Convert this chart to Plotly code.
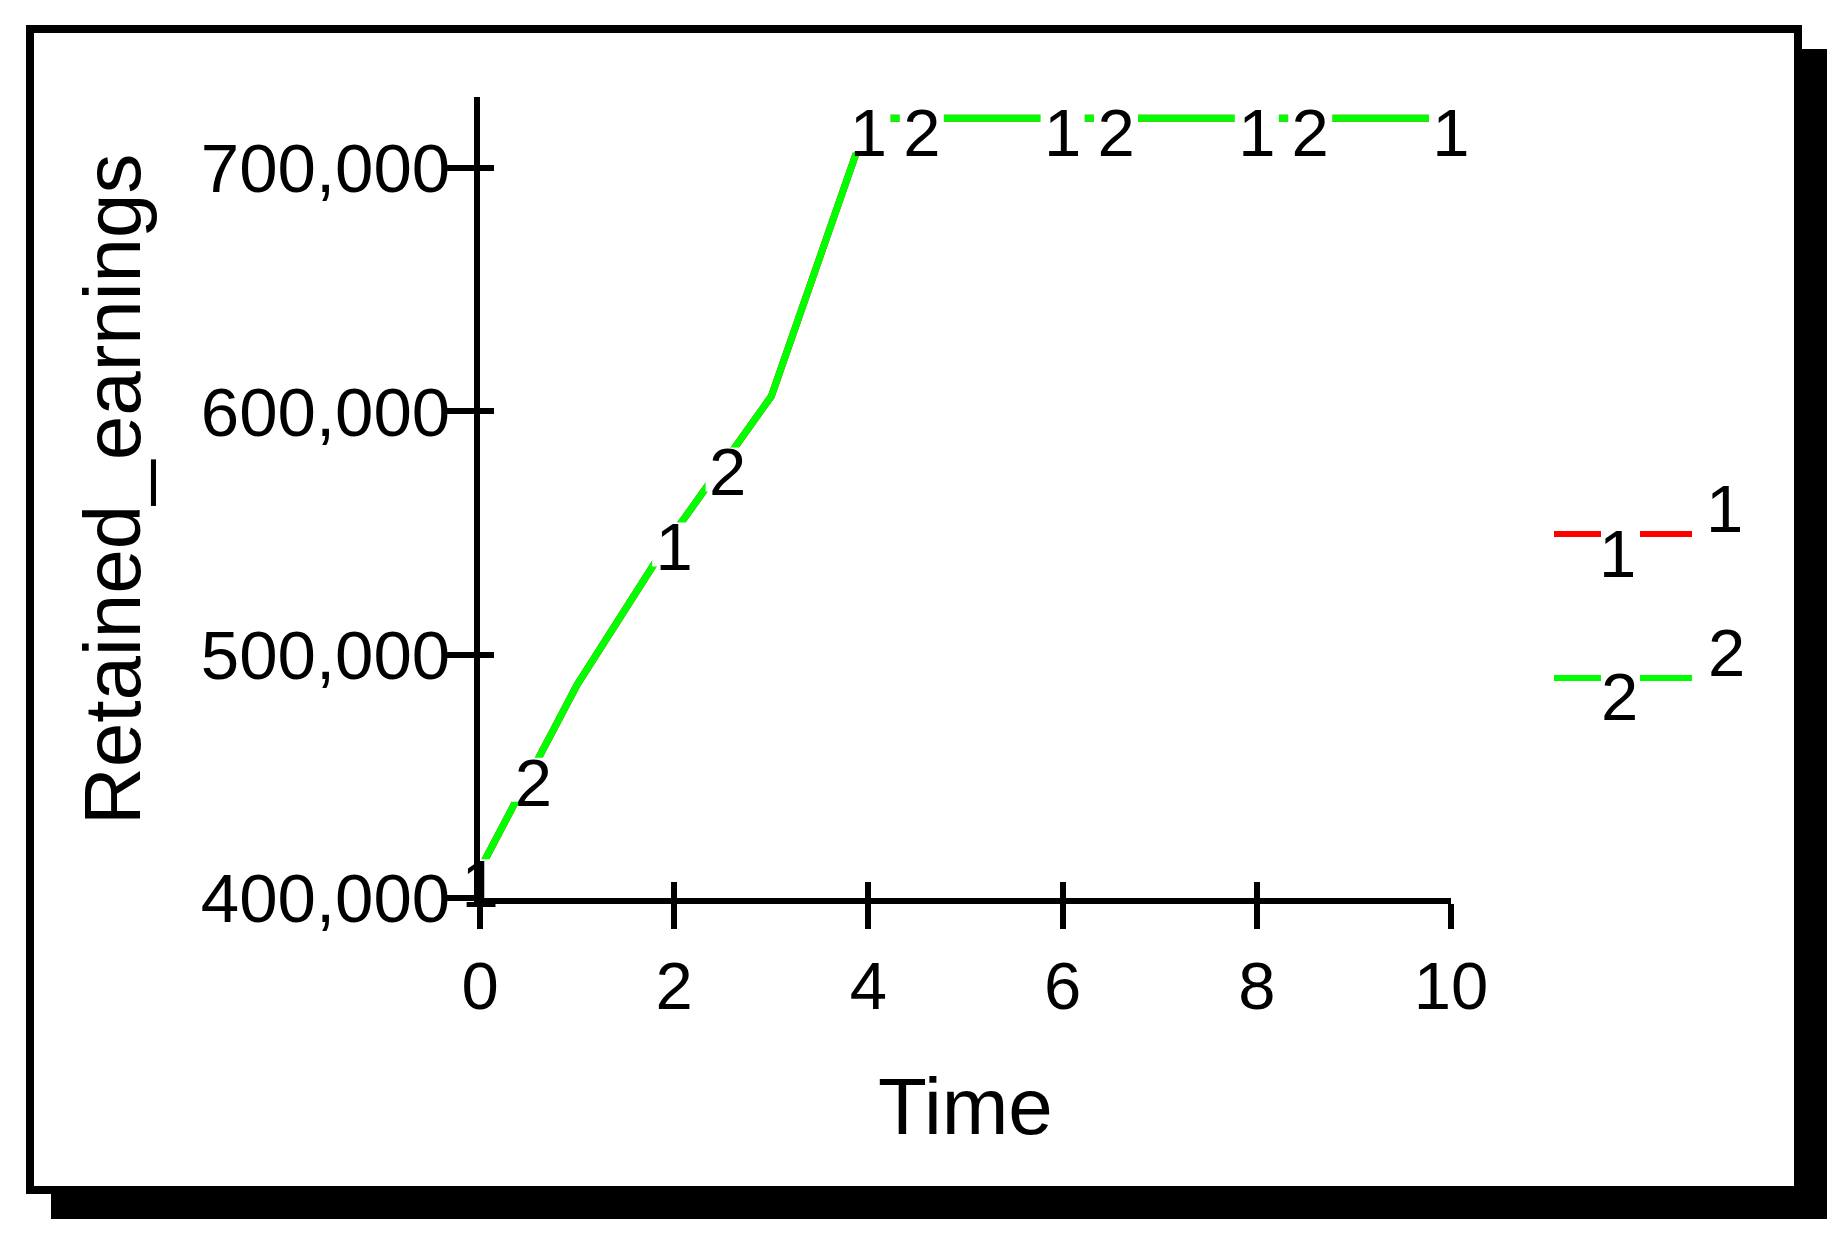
import numpy as np
import plotly.graph_objects as go

# ---------------- data ----------------
time = [0, 1, 2, 3, 4, 5, 6, 7, 8, 9, 10]
retained_earnings_1 = [411800, 487600, 550200, 606200, 720500, 720500, 720500, 720500, 720500, 720500, 720500]
retained_earnings_2 = [411800, 487600, 550200, 606200, 720500, 720500, 720500, 720500, 720500, 720500, 720500]
series_names = ["1", "2"]
series_colors = ["#ff0000", "#00ff00"]
label_times_1 = [0, 2, 4, 6, 8, 10]
label_times_2 = [0.55, 2.55, 4.55, 6.55, 8.55]
x_tick_vals = [0, 2, 4, 6, 8, 10]
x_tick_text = ["0", "2", "4", "6", "8", "10"]
y_tick_vals = [400000, 500000, 600000, 700000]
y_tick_text = ["400,000", "500,000", "600,000", "700,000"]
x_title = "Time"
y_title = "Retained_earnings"

# ---------------- layout geometry (pixels) ----------------
W, H = 1848, 1240
PL, PR, PT, PB = 480, 1451, 97, 898
X_RANGE = [0, 10]
Y_RANGE = [400000, 729200]
FONT = "Liberation Sans, Arial, sans-serif"


def px(x):
    return (x - PL) / (PR - PL)


def py(y):
    return (PB - y) / (PB - PT)


units_per_px = (Y_RANGE[1] - Y_RANGE[0]) / (PB - PT)
text_drop = 21 * units_per_px
box_drop = 12 * units_per_px

fig = go.Figure()

series = [retained_earnings_1, retained_earnings_2]
label_times = [label_times_1, label_times_2]

for name, vals, col in zip(series_names, series, series_colors):
    fig.add_trace(go.Scatter(
        x=time, y=vals, mode="lines", name=name,
        line=dict(color=col, width=7), showlegend=False, cliponaxis=False,
    ))

# white boxes behind the line labels (gaps in the lines)
for name, vals, lt in zip(series_names, series, label_times):
    fig.add_trace(go.Scatter(
        x=lt, y=np.interp(lt, time, vals) - box_drop, mode="markers",
        marker=dict(symbol="square", size=44, color="white", line=dict(width=0)),
        showlegend=False, cliponaxis=False, hoverinfo="skip",
    ))

# the line labels
for name, vals, lt in zip(series_names, series, label_times):
    fig.add_trace(go.Scatter(
        x=lt, y=np.interp(lt, time, vals) - text_drop, mode="text", text=[name] * len(lt),
        textposition="middle center",
        textfont=dict(family=FONT, size=67, color="black"),
        showlegend=False, cliponaxis=False, hoverinfo="skip",
    ))

# invisible trace for the overlay axes (inner tick halves)
fig.add_trace(go.Scatter(x=[None], y=[None], xaxis="x2", yaxis="y2", showlegend=False))

shapes = [
    # drop shadow
    dict(type="rect", xref="paper", yref="paper", x0=px(51), x1=px(1827), y0=py(1219), y1=py(49),
         fillcolor="black", line=dict(width=0), layer="below"),
    # frame
    dict(type="rect", xref="paper", yref="paper", x0=px(30), x1=px(1798), y0=py(1190), y1=py(29),
         fillcolor="white", line=dict(color="black", width=8), layer="below"),
]

# legend glyphs
legend_rows = [534, 678]
for row_y, col in zip(legend_rows, series_colors):
    for a, b in [(1554, 1601), (1640, 1692)]:
        shapes.append(dict(type="line", xref="paper", yref="paper", x0=px(a), x1=px(b),
                           y0=py(row_y), y1=py(row_y), line=dict(color=col, width=6)))

annotations = []
legend_mid = [(1617, 553), (1619, 696)]
legend_right = [(1724, 509), (1726, 652)]
for name, (mx, my), (rx, ry) in zip(series_names, legend_mid, legend_right):
    for (ax_, ay_) in [(mx, my), (rx, ry)]:
        annotations.append(dict(text=name, xref="paper", yref="paper", x=px(ax_), y=py(ay_),
                                xanchor="center", yanchor="middle", showarrow=False,
                                font=dict(family=FONT, size=67, color="black")))

annotations.append(dict(text=x_title, xref="paper", yref="paper", x=px(965), y=py(1106),
                        xanchor="center", yanchor="middle", showarrow=False,
                        font=dict(family=FONT, size=80, color="black")))
annotations.append(dict(text=y_title, xref="paper", yref="paper", x=px(112), y=py(489),
                        xanchor="center", yanchor="middle", showarrow=False, textangle=-90,
                        font=dict(family=FONT, size=80, color="black")))

axis_common = dict(showgrid=False, zeroline=False, showline=True, linecolor="black", linewidth=6,
                   tickcolor="black", tickwidth=6)

fig.update_layout(
    width=W, height=H,
    margin=dict(l=PL, r=W - PR, t=PT, b=H - PB, pad=0),
    paper_bgcolor="white", plot_bgcolor="rgba(0,0,0,0)",
    xaxis=dict(range=X_RANGE, tickvals=x_tick_vals, ticktext=x_tick_text, ticks="outside", ticklen=25,
               tickfont=dict(family=FONT, size=67, color="black"), **axis_common),
    yaxis=dict(range=Y_RANGE, tickvals=y_tick_vals, ticktext=y_tick_text, ticks="outside", ticklen=30,
               ticklabelstandoff=-20, tickfont=dict(family=FONT, size=69, color="black"), **axis_common),
    xaxis2=dict(range=X_RANGE, overlaying="x", tickvals=x_tick_vals, ticks="inside", ticklen=16,
                showticklabels=False, showgrid=False, zeroline=False, showline=False,
                tickcolor="black", tickwidth=6, side="bottom"),
    yaxis2=dict(range=Y_RANGE, overlaying="y", tickvals=y_tick_vals, ticks="inside", ticklen=14,
                showticklabels=False, showgrid=False, zeroline=False, showline=False,
                tickcolor="black", tickwidth=6, side="left"),
    shapes=shapes, annotations=annotations, showlegend=False,
)

fig.write_html("out.html", config={"displayModeBar": False},
               post_script="document.body.style.margin='0';document.body.style.overflow='hidden';")
